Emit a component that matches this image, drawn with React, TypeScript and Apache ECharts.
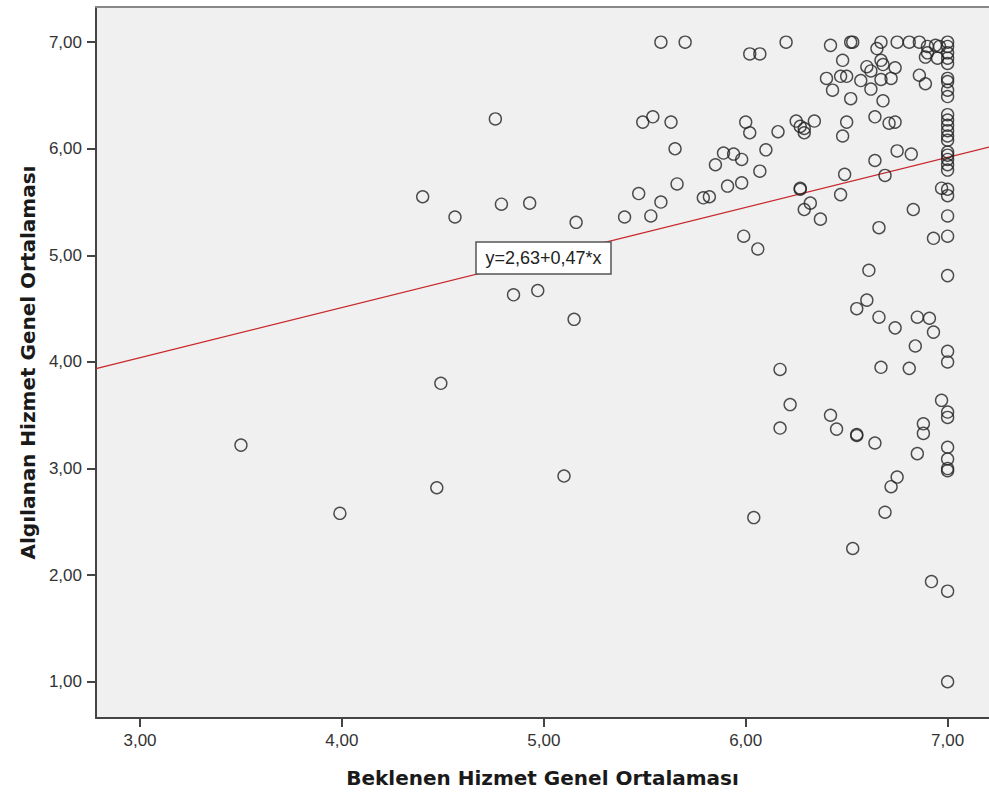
import React, { useEffect, useRef } from "react";
import * as echarts from "echarts";

// Axis ticks
const xTicks = [3, 4, 5, 6, 7];
const yTicks = [1, 2, 3, 4, 5, 6, 7];

// Regression line: y = 2,63 + 0,47*x
const intercept = 2.63;
const slope = 0.47;
const fitLabel = "y=2,63+0,47*x";

// [Beklenen, Algılanan] pairs
const leftGroup: [number, number][] = [
  [3.5, 3.22], [3.99, 2.58], [4.47, 2.82], [4.49, 3.8], [4.4, 5.55], [4.56, 5.36],
  [4.76, 6.28], [4.79, 5.48], [4.93, 5.49], [4.85, 4.63], [4.97, 4.67], [5.1, 2.93],
  [5.16, 5.31], [5.15, 4.4],
];

const topRow: [number, number][] = [
  [5.58, 7.0], [5.7, 7.0], [6.2, 7.0], [6.52, 7.0], [6.53, 7.0], [6.67, 7.0], [6.75, 7.0],
  [6.81, 7.0], [6.86, 7.0], [6.02, 6.89], [6.07, 6.89], [6.42, 6.97], [6.65, 6.94],
  [6.9, 6.96], [6.94, 6.97], [6.96, 6.96], [6.9, 6.9], [6.89, 6.86], [6.95, 6.85],
];

const sevenX = 7.0;
const perceivedAtSeven = [
  7.0, 6.96, 6.9, 6.85, 6.8, 6.66, 6.63, 6.55, 6.49, 6.32, 6.27, 6.22, 6.17, 6.12, 6.08,
  5.97, 5.94, 5.9, 5.85, 5.8, 5.62, 5.56, 5.37, 5.18, 4.81, 4.1, 4.0, 3.53, 3.48, 3.2,
  3.09, 3.0, 2.98, 1.85, 1.0,
];

const upperCluster: [number, number][] = [
  [6.48, 6.83], [6.6, 6.77], [6.62, 6.73], [6.67, 6.83], [6.68, 6.79], [6.74, 6.76],
  [6.4, 6.66], [6.47, 6.68], [6.5, 6.68], [6.57, 6.64], [6.62, 6.56], [6.67, 6.65],
  [6.72, 6.66], [6.43, 6.55], [6.52, 6.47], [6.68, 6.45], [6.86, 6.69], [6.89, 6.61],
];

const rowSixQuarter: [number, number][] = [
  [5.49, 6.25], [5.54, 6.3], [5.63, 6.25], [6.0, 6.25], [6.02, 6.15], [6.16, 6.16],
  [6.25, 6.26], [6.27, 6.21], [6.29, 6.19], [6.29, 6.15], [6.34, 6.26], [6.5, 6.25],
  [6.48, 6.12], [6.64, 6.3], [6.71, 6.24], [6.74, 6.25],
];

const middleGroup: [number, number][] = [
  [5.65, 6.0], [5.89, 5.96], [5.94, 5.95], [5.98, 5.9], [5.85, 5.85], [6.1, 5.99],
  [6.64, 5.89], [6.75, 5.98], [6.82, 5.95], [6.07, 5.79], [6.69, 5.75], [6.49, 5.76],
  [5.66, 5.67], [5.98, 5.68], [5.91, 5.65], [5.47, 5.58], [5.58, 5.5], [5.53, 5.37],
  [5.4, 5.36], [5.79, 5.54], [5.82, 5.55], [6.27, 5.63], [6.27, 5.62], [6.32, 5.49],
  [6.29, 5.43], [6.37, 5.34], [6.47, 5.57], [6.83, 5.43], [6.66, 5.26], [5.99, 5.18],
  [6.06, 5.06], [6.97, 5.63], [6.93, 5.16],
];

const lowerGroup: [number, number][] = [
  [6.61, 4.86], [6.6, 4.58], [6.55, 4.5], [6.66, 4.42], [6.74, 4.32], [6.85, 4.42],
  [6.91, 4.41], [6.93, 4.28], [6.84, 4.15], [6.17, 3.93], [6.67, 3.95], [6.81, 3.94],
  [6.22, 3.6], [6.17, 3.38], [6.42, 3.5], [6.45, 3.37], [6.55, 3.32], [6.55, 3.31],
  [6.64, 3.24], [6.97, 3.64], [6.88, 3.42], [6.88, 3.33], [6.85, 3.14], [6.75, 2.92],
  [6.72, 2.83], [6.04, 2.54], [6.69, 2.59], [6.53, 2.25], [6.92, 1.94],
];

const X_MIN = 2.782;
const X_MAX = 7.205;
const Y_MIN = 0.66;
const Y_MAX = 7.33;

const fmt = (v: number) => v.toFixed(2).replace(".", ",");

export default function App() {
  const ref = useRef<HTMLDivElement>(null);
  useEffect(() => {
    if (!ref.current) return;
    const chart = echarts.init(ref.current, undefined, { renderer: "svg" });
    const points: [number, number][] = [
      ...leftGroup,
      ...topRow,
      ...perceivedAtSeven.map((y) => [sevenX, y] as [number, number]),
      ...upperCluster,
      ...rowSixQuarter,
      ...middleGroup,
      ...lowerGroup,
    ];
    const fit: [number, number][] = [
      [X_MIN, intercept + slope * X_MIN],
      [X_MAX, intercept + slope * X_MAX],
    ];
    const labelFont = { fontFamily: "Liberation Sans, Arial, sans-serif", fontSize: 17, color: "#333" };
    chart.setOption({
      animation: false,
      backgroundColor: "#ffffff",
      grid: {
        left: 96,
        top: 7,
        right: 0,
        bottom: 76,
        show: true,
        backgroundColor: "#f0f0f0",
        borderWidth: 0,
      },
      xAxis: [
        {
          type: "value",
          min: X_MIN,
          max: X_MAX,
          name: "Beklenen Hizmet Genel Ortalaması",
          nameLocation: "middle",
          nameGap: 50,
          nameTextStyle: {
            fontFamily: "DejaVu Sans, sans-serif",
            fontWeight: "bold",
            fontSize: 20,
            color: "#1a1a1a",
          },
          axisLine: { show: true, onZero: false, lineStyle: { color: "#444", width: 2 } },
          axisTick: { show: true, length: 9, lineStyle: { color: "#444", width: 2 }, customValues: xTicks },
          axisLabel: { ...labelFont, margin: 14, formatter: fmt, customValues: xTicks },
          splitLine: { show: false },
        },
        {
          type: "value",
          position: "top",
          min: X_MIN,
          max: X_MAX,
          axisLine: { show: true, onZero: false, lineStyle: { color: "#888", width: 2 } },
          axisTick: { show: false },
          axisLabel: { show: false },
          splitLine: { show: false },
        },
      ],
      yAxis: {
        type: "value",
        min: Y_MIN,
        max: Y_MAX,
        name: "Algılanan Hizmet Genel Ortalaması",
        nameLocation: "middle",
        nameGap: 56,
        nameTextStyle: {
          fontFamily: "DejaVu Sans, sans-serif",
          fontWeight: "bold",
          fontSize: 20,
          color: "#1a1a1a",
        },
        axisLine: { show: true, onZero: false, lineStyle: { color: "#444", width: 2 } },
        axisTick: { show: true, length: 9, lineStyle: { color: "#444", width: 2 }, customValues: yTicks },
        axisLabel: { ...labelFont, margin: 14, formatter: fmt, customValues: yTicks },
        splitLine: { show: false },
      },
      series: [
        {
          type: "line",
          data: fit,
          showSymbol: false,
          symbol: "none",
          lineStyle: { color: "#c8282c", width: 1.3 },
          z: 1,
          silent: true,
        },
        {
          type: "scatter",
          data: points,
          symbol: "circle",
          symbolSize: 12,
          itemStyle: { color: "rgba(0,0,0,0)", borderColor: "#222", borderWidth: 1.4 },
          z: 2,
        },
      ],
      graphic: [
        {
          type: "group",
          z: 100,
          children: [
            {
              type: "rect",
              shape: { x: 476, y: 242, width: 135, height: 32 },
              style: { fill: "#ffffff", stroke: "#555", lineWidth: 1.5 },
              z: 100,
            },
            {
              type: "text",
              x: 543.5,
              y: 258,
              style: {
                text: fitLabel,
                fontFamily: "Liberation Sans, Arial, sans-serif",
                fontSize: 18,
                fill: "#222",
                align: "center",
                verticalAlign: "middle",
              },
              z: 101,
            },
          ],
        },
      ],
    });
    return () => chart.dispose();
  }, []);
  return (
    <div
      ref={ref}
      style={{ position: "absolute", left: 0, top: 0, width: 989, height: 794 }}
    />
  );
}
